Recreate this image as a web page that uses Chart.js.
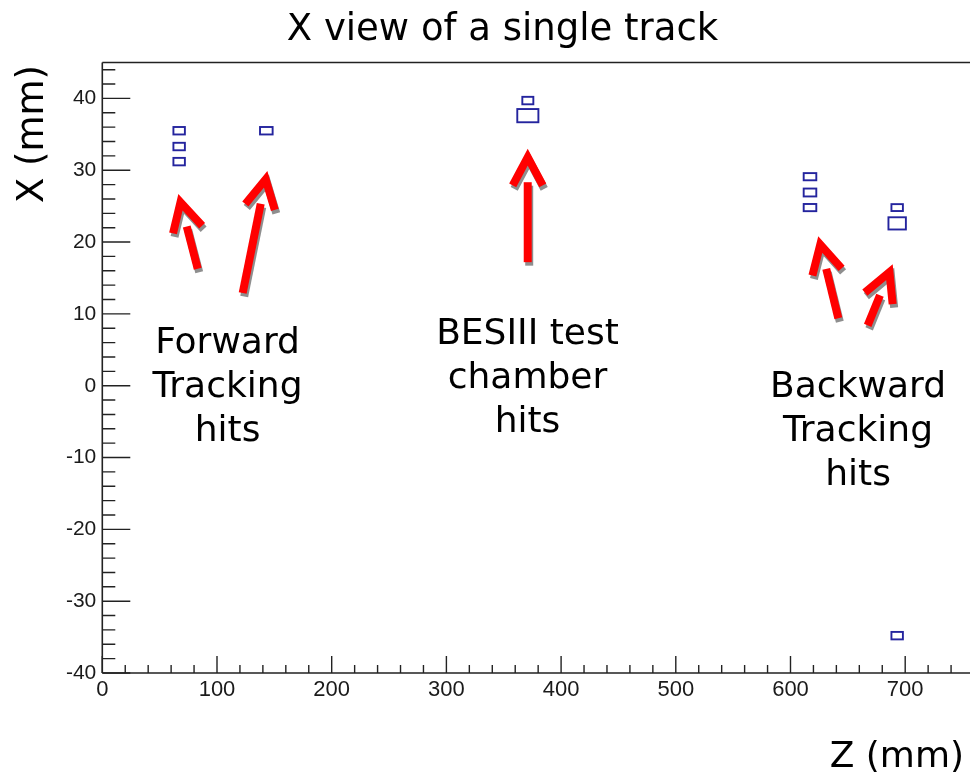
<!DOCTYPE html>
<html>
<head>
<meta charset="utf-8">
<script src="https://cdn.jsdelivr.net/npm/chart.js@4/dist/chart.umd.min.js"></script>
<style>
  html, body { margin: 0; padding: 0; background: #ffffff; }
  #wrap { width: 970px; height: 772px; }
</style>
</head>
<body>
<div id="wrap"><canvas id="c" width="970" height="772"></canvas></div>
<script>
// Hit positions (Z along the beam, X transverse), in mm
const hitZ = [67, 67, 67, 143, 371, 371, 617, 617, 617, 693, 693, 693];
const hitX = [35.5, 33.3, 31.2, 35.5, 39.7, 37.6, 29.1, 26.9, 24.8, 24.8, 22.6, -34.8];
// Half extents of each hit box, in mm
const hitHalfZ = [5, 5, 5, 5.5, 4.8, 9.2, 5.5, 5.5, 5.5, 5, 7.6, 5];
const hitHalfX = [0.52, 0.52, 0.52, 0.52, 0.52, 0.92, 0.5, 0.55, 0.5, 0.48, 0.85, 0.52];

// Annotation arrows: tail and tip, in data units
const arrowTailZ = [83.2, 122.4, 370.9, 641.7, 667.3];
const arrowTailX = [16.3, 12.9, 17.2, 9.4, 8.4];
const arrowTipZ = [66.3, 143.9, 370.9, 624.2, 689.1];
const arrowTipX = [26.7, 29.9, 33.0, 20.8, 16.9];

// Annotation labels, anchored at the first line's baseline
const noteLines = [['Forward', 'Tracking', 'hits'], ['BESIII test', 'chamber', 'hits'], ['Backward', 'Tracking', 'hits']];
const noteZ = [109.2, 370.7, 658.9];
const noteX = [4.5, 5.8, -1.6];

// Axis ranges and tick spacing
const zRange = [0, 756.5];
const xRange = [-40, 45];
const zMajor = 100, zMinor = 20;
const xMajor = 10, xMinor = 2;

const chartTitle = 'X view of a single track';
const zTitle = 'Z (mm)';
const xTitle = 'X (mm)';

const TEXT_FONT = '"DejaVu Sans", sans-serif';
const TICK_FONT = '"Liberation Sans", Arial, sans-serif';

// Inward ROOT-style frame with major and minor ticks
const framePlugin = {
  id: 'frame',
  afterDraw(chart) {
    const { ctx, chartArea: a, scales: { x, y } } = chart;
    ctx.save();
    ctx.strokeStyle = '#222';
    ctx.lineWidth = 1.6;
    ctx.beginPath();
    ctx.moveTo(a.left, a.top); ctx.lineTo(a.right, a.top);
    ctx.moveTo(a.left, a.top); ctx.lineTo(a.left, a.bottom);
    ctx.moveTo(a.left, a.bottom); ctx.lineTo(a.right, a.bottom);
    ctx.stroke();
    ctx.lineWidth = 1.4;
    ctx.beginPath();
    for (let v = x.min; v <= x.max + 1e-6; v += zMinor) {
      const px = x.getPixelForValue(v);
      const major = Math.abs(v / zMajor - Math.round(v / zMajor)) < 1e-6;
      const len = major ? 17 : 8;
      ctx.moveTo(px, a.bottom); ctx.lineTo(px, a.bottom - len);
    }
    for (let v = y.min; v <= y.max + 1e-6; v += xMinor) {
      const py = y.getPixelForValue(v);
      const major = Math.abs(v / xMajor - Math.round(v / xMajor)) < 1e-6;
      const len = major ? 28 : 13;
      ctx.moveTo(a.left, py); ctx.lineTo(a.left + len, py);
    }
    ctx.stroke();
    ctx.restore();
  }
};

// Hit boxes sized in data units
const boxPlugin = {
  id: 'hitBoxes',
  afterDatasetsDraw(chart) {
    const { ctx, scales: { x, y } } = chart;
    ctx.save();
    ctx.strokeStyle = '#24249e';
    ctx.lineWidth = 1.9;
    hitZ.forEach((z, i) => {
      const l = x.getPixelForValue(z - hitHalfZ[i]);
      const r = x.getPixelForValue(z + hitHalfZ[i]);
      const t = y.getPixelForValue(hitX[i] + hitHalfX[i]);
      const b = y.getPixelForValue(hitX[i] - hitHalfX[i]);
      ctx.strokeRect(l, t, r - l, b - t);
    });
    ctx.restore();
  }
};

function arrowPath(ctx, tx, ty, ax, ay) {
  const dx = ax - tx, dy = ay - ty;
  const len = Math.hypot(dx, dy);
  const ux = dx / len, uy = dy / len;
  const half = 28 * Math.PI / 180;
  const lw = 8;
  const cx = ax - ux * (lw / 2) / Math.sin(half);
  const cy = ay - uy * (lw / 2) / Math.sin(half);
  const bx = -ux, by = -uy;
  const arm = 32;
  const c = Math.cos(half), s = Math.sin(half);
  const r1x = bx * c - by * s, r1y = bx * s + by * c;
  const r2x = bx * c + by * s, r2y = -bx * s + by * c;
  ctx.beginPath();
  ctx.moveTo(cx + r1x * arm, cy + r1y * arm);
  ctx.lineTo(cx, cy);
  ctx.lineTo(cx + r2x * arm, cy + r2y * arm);
  ctx.stroke();
  ctx.beginPath();
  ctx.moveTo(tx, ty);
  ctx.lineTo(cx - ux * 25, cy - uy * 25);
  ctx.stroke();
}

// Red arrows with a grey drop shadow, plus the text notes and titles
const notesPlugin = {
  id: 'notes',
  afterDraw(chart) {
    const { ctx, scales: { x, y } } = chart;
    ctx.save();
    ctx.lineWidth = 8;
    ctx.lineCap = 'butt';
    ctx.lineJoin = 'miter';
    arrowTailZ.forEach((z, i) => {
      const tx = x.getPixelForValue(z), ty = y.getPixelForValue(arrowTailX[i]);
      const ax = x.getPixelForValue(arrowTipZ[i]), ay = y.getPixelForValue(arrowTipX[i]);
      ctx.strokeStyle = '#8e8e8e';
      arrowPath(ctx, tx + 1.5, ty + 3.5, ax + 1.5, ay + 3.5);
      ctx.strokeStyle = '#ff0000';
      arrowPath(ctx, tx, ty, ax, ay);
    });

    ctx.fillStyle = '#000';
    ctx.font = '36px ' + TEXT_FONT;
    ctx.textAlign = 'center';
    ctx.textBaseline = 'alphabetic';
    noteLines.forEach((lines, i) => {
      const px = x.getPixelForValue(noteZ[i]);
      const py = y.getPixelForValue(noteX[i]);
      lines.forEach((t, k) => ctx.fillText(t, px, py + k * 44));
    });

    ctx.font = '37px ' + TEXT_FONT;
    ctx.fillText(chartTitle, 502.5, 40);

    ctx.textAlign = 'right';
    ctx.font = '36px ' + TEXT_FONT;
    ctx.fillText(zTitle, 964, 767);

    ctx.translate(43, 65);
    ctx.rotate(-Math.PI / 2);
    ctx.textAlign = 'right';
    ctx.font = '37px ' + TEXT_FONT;
    ctx.fillText(xTitle, 0, 0);
    ctx.restore();
  }
};

new Chart(document.getElementById('c'), {
  type: 'scatter',
  data: {
    datasets: [{
      label: 'hits',
      data: hitZ.map((z, i) => ({ x: z, y: hitX[i] })),
      pointRadius: 0,
      showLine: false
    }]
  },
  options: {
    responsive: false,
    animation: false,
    events: [],
    layout: { padding: { top: 62.5, right: 0, bottom: 0, left: 0 } },
    plugins: { legend: { display: false }, tooltip: { enabled: false }, title: { display: false } },
    scales: {
      x: {
        type: 'linear',
        min: zRange[0], max: zRange[1],
        grid: { display: false, drawTicks: false },
        border: { display: false },
        ticks: {
          stepSize: zMajor, includeBounds: false, padding: 4,
          color: '#1a1a1a', font: { family: TICK_FONT, size: 22 },
          maxRotation: 0, autoSkip: false
        },
        afterFit(s) { s.height = 99; }
      },
      y: {
        type: 'linear',
        min: xRange[0], max: xRange[1],
        grid: { display: false, drawTicks: false },
        border: { display: false },
        ticks: {
          stepSize: xMajor, includeBounds: false, padding: 6,
          color: '#1a1a1a', font: { family: TICK_FONT, size: 21 },
          autoSkip: false
        },
        afterFit(s) { s.width = 102.3; }
      }
    }
  },
  plugins: [framePlugin, boxPlugin, notesPlugin]
});
</script>
</body>
</html>
